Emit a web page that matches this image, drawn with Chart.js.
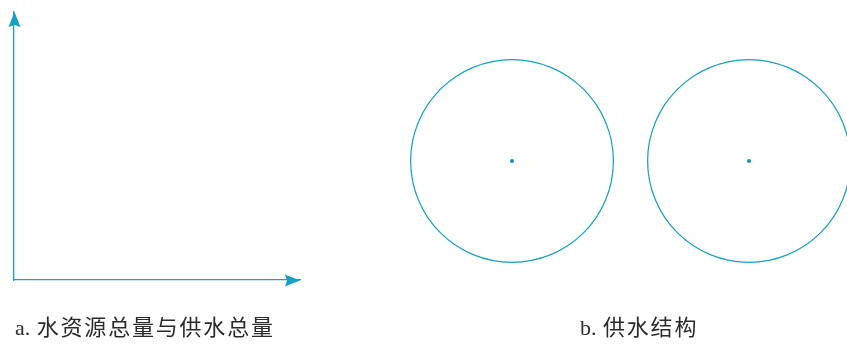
<!DOCTYPE html>
<html>
<head>
<meta charset="utf-8">
<script src="https://cdn.jsdelivr.net/npm/chart.js@4/dist/chart.umd.min.js"></script>
<style>
  html, body { margin: 0; padding: 0; background: #fff; overflow: hidden; }
  #wrap { position: relative; width: 847px; height: 345px; overflow: hidden; }
  canvas { position: absolute; top: 0; }
</style>
</head>
<body>
<div id="wrap">
  <canvas id="graficoTotal" width="320" height="345" style="left:0"></canvas>
  <canvas id="graficoEstrutura1" width="474" height="345" style="left:400px"></canvas>
  <canvas id="graficoEstrutura2" width="220" height="345" style="left:639px"></canvas>
</div>
<script>
// dados do modelo (o gráfico original está vazio: só eixos e círculos)
var legendas = ['a. 水资源总量与供水总量', 'b. 供水结构'];
var anos = [];
var recursosTotais = [];
var fornecimentoTotal = [];
var estruturaRotulos = ['供水结构'];
var estruturaValores = [100];

var COR = '#17a0c6';
var COR_PONTO = '#0f93ba';
var FONTE = '22px "Liberation Serif", "Noto Sans CJK SC", serif';

// legenda embaixo de cada painel: prefixo latino junto, texto chinês espaçado
var pluginLegenda = {
	id: 'legendaPainel',
	afterDraw: function(chart, args, opts){
		if (!opts.texto) return;
		var ctx = chart.ctx;
		var i = opts.texto.indexOf(' ') + 1;
		var prefixo = opts.texto.slice(0, i);
		var resto = opts.texto.slice(i);
		ctx.save();
		ctx.font = FONTE;
		ctx.fillStyle = '#2b2b2b';
		ctx.textBaseline = 'middle';
		ctx.textAlign = 'left';
		ctx.fillText(prefixo, opts.x, opts.y);
		var x = opts.x + ctx.measureText(prefixo).width + 1;
		ctx.letterSpacing = '1.8px';
		ctx.fillText(resto, x, opts.y);
		ctx.restore();
	}
};

// setas no fim dos eixos
var pluginSetas = {
	id: 'setas',
	afterDraw: function(chart){
		var xs = chart.scales.x, ys = chart.scales.y;
		if (!xs || !ys) return;
		var ctx = chart.ctx;
		var x0 = xs.left + 0.5, y0 = ys.bottom + 0.5;
		ctx.save();
		ctx.fillStyle = COR;
		// vertical
		ctx.beginPath();
		ctx.moveTo(x0, ys.top);
		ctx.lineTo(x0 + 6, ys.top + 15);
		ctx.lineTo(x0, ys.top + 13);
		ctx.lineTo(x0 - 6, ys.top + 15);
		ctx.closePath();
		ctx.fill();
		// horizontal
		ctx.beginPath();
		ctx.moveTo(xs.right, y0);
		ctx.lineTo(xs.right - 15, y0 - 6);
		ctx.lineTo(xs.right - 13, y0);
		ctx.lineTo(xs.right - 15, y0 + 6);
		ctx.closePath();
		ctx.fill();
		ctx.restore();
	}
};

// ponto central do círculo
var pluginCentro = {
	id: 'centro',
	afterDatasetsDraw: function(chart){
		var arco = chart.getDatasetMeta(0).data[0];
		if (!arco) return;
		var ctx = chart.ctx;
		ctx.save();
		ctx.fillStyle = COR_PONTO;
		ctx.beginPath();
		ctx.arc(arco.x, arco.y, 2, 0, Math.PI * 2);
		ctx.fill();
		ctx.restore();
	}
};

Chart.defaults.animation = false;
Chart.defaults.devicePixelRatio = 1;

new Chart(document.getElementById('graficoTotal'), {
	type: 'line',
	data: {
		labels: anos,
		datasets: [
			{ label: '水资源总量', data: recursosTotais, borderColor: COR },
			{ label: '供水总量', data: fornecimentoTotal, borderColor: COR }
		]
	},
	options: {
		responsive: false,
		layout: { padding: { left: 6, top: 12, right: 20, bottom: 57 } },
		plugins: {
			legend: { display: false },
			tooltip: { enabled: false },
			legendaPainel: { texto: legendas[0], x: 15, y: 329 }
		},
		scales: {
			x: {
				type: 'linear', min: 0, max: 1,
				grid: { display: false },
				ticks: { display: false },
				border: { display: true, color: COR, width: 1.3 }
			},
			y: {
				type: 'linear', min: 0, max: 1,
				grid: { display: false },
				ticks: { display: false },
				border: { display: true, color: COR, width: 1.3 }
			}
		}
	},
	plugins: [pluginSetas, pluginLegenda]
});

function criarEstrutura(id, padding, legenda){
	return new Chart(document.getElementById(id), {
		type: 'doughnut',
		data: {
			labels: estruturaRotulos,
			datasets: [{
				data: estruturaValores,
				backgroundColor: COR,
				borderWidth: 0,
				cutout: '98.8%'
			}]
		},
		options: {
			responsive: false,
			layout: { padding: padding },
			plugins: {
				legend: { display: false },
				tooltip: { enabled: false },
				legendaPainel: legenda
			}
		},
		plugins: [pluginCentro, pluginLegenda]
	});
}

criarEstrutura('graficoEstrutura1', { left: 10, right: 260, top: 59, bottom: 82 }, { texto: legendas[1], x: 180, y: 329 });
criarEstrutura('graficoEstrutura2', { left: 8, right: 8, top: 59, bottom: 82 }, {});
</script>
</body>
</html>
